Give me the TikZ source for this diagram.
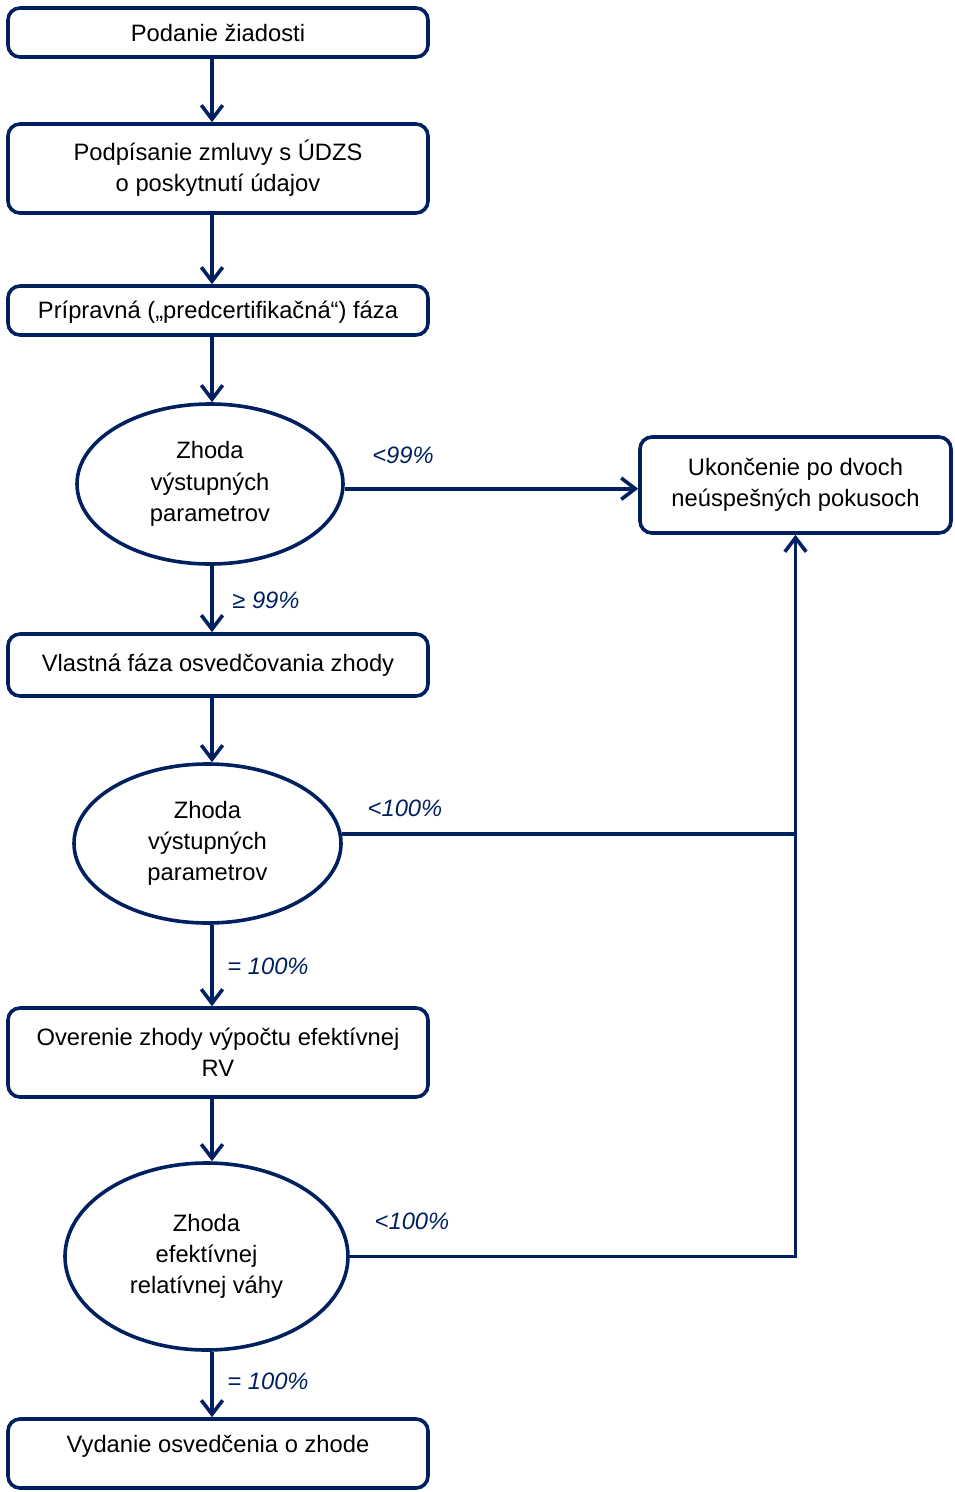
\documentclass[tikz,border=0pt]{standalone}
\usepackage{fontspec}
\setmainfont{Liberation Sans}
\usetikzlibrary{shapes.geometric,arrows.meta}
\definecolor{navy}{RGB}{0,32,96}

\begin{document}
\begin{tikzpicture}[x=0.75pt,y=-0.75pt,draw=navy,line width=2.7pt,>={Straight Barb[length=10.5pt,width=16pt]}]
	\tikzstyle{box}=[rectangle,rounded corners=9pt,draw=navy,
	minimum width=315pt,inner sep=0pt,align=center,
	font=\fontsize{17.8}{23.5}\selectfont
	]
	\tikzstyle{test}=[box, ellipse, sharp corners];
	\tikzstyle{pct}=[font=\fontsize{17.8}{23.5}\selectfont\itshape, text=navy];

\useasboundingbox (0,0) rectangle (955,1492);
\coordinate (spine) at (212,0);

\node[box, minimum height=36.75pt](b1) at (218,32.5){Podanie žiadosti};
\node[box, minimum height=66.75pt](b2) at (218,168.5){Podpísanie zmluvy s ÚDZS\\o poskytnutí údajov};
\node[box, minimum height=36.75pt, text depth=1pt](b3) at (218,310.5){Prípravná („predcertifikačná“) fáza};
\node[test, minimum width=199.5pt, minimum height=120pt](e1) at (210,484){Zhoda\\výstupných\\parametrov};
\node[box, minimum width=233.25pt, minimum height=72pt](u) at (795.5,485){Ukončenie po dvoch\\neúspešných pokusoch};
\node[box, minimum height=46.5pt](b4) at (218,665){Vlastná fáza osvedčovania zhody};
\node[test, minimum width=200.25pt, minimum height=119.25pt](e2) at (207.5,843.5){Zhoda\\výstupných\\parametrov};
\node[box, minimum height=66.75pt](b5) at (218,1052.5){Overenie zhody výpočtu efektívnej\\RV};
\node[test, minimum width=212.25pt, minimum height=140.25pt](e3) at (206.5,1256.5){Zhoda\\efektívnej\\relatívnej váhy};
\node[box, minimum height=51.75pt, text depth=14pt](b6) at (218,1453.5){Vydanie osvedčenia o zhode};

\node[pct](l1) at (403,455){<99\%};
\node[pct](l2) at (266,600){≥ 99\%};
\node[pct](l3) at (405,808){<100\%};
\node[pct](l4) at (268,966){= 100\%};
\node[pct](l5) at (412,1221){<100\%};
\node[pct](l6) at (268,1381){= 100\%};

\draw[->] (b1.south -| spine) -- (b2.north -| spine);
\draw[->] (b2.south -| spine) -- (b3.north -| spine);
\draw[->] (b3.south -| spine) -- (e1.north -| spine);
\draw[->] (e1.south -| spine) -- (b4.north -| spine);
\draw[->] (b4.south -| spine) -- (e2.north -| spine);
\draw[->] (e2.south -| spine) -- (b5.north -| spine);
\draw[->] (b5.south -| spine) -- (e3.north -| spine);
\draw[->] (e3.south -| spine) -- (b6.north -| spine);

\draw[->] (e1.-2) -- (e1.-2 -| u.west);
\draw (e2.4) -- (e2.4 -| u.south);
\draw[->] (e3.east) -- (e3.east -| u.south) -- (u.south);

\end{tikzpicture}
\end{document}
